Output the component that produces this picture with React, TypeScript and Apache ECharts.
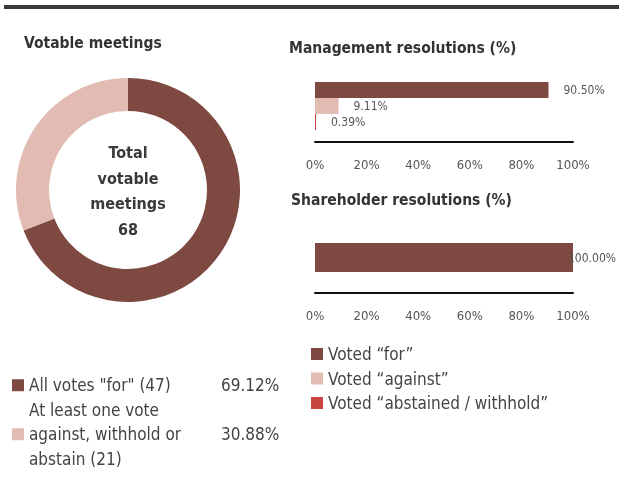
import React, { useEffect, useRef } from "react";
import * as echarts from "echarts";

const FONT = "'Liberation Sans Narrow', 'DejaVu Sans Condensed', 'Roboto Condensed', sans-serif";

const meetingNames = ['All votes "for" (47)', "At least one vote against, withhold or abstain (21)"];
const meetingLegendLines = [["All votes \"for\" (47)"], ["At least one vote", "against, withhold or", "abstain (21)"]];
const meetingCounts = [47, 21];
const totalMeetings = 68;

const voteSeriesNames = ["Voted “for”", "Voted “against”", "Voted “abstained / withhold”"];
const managementValues = [90.5, 9.11, 0.39];
const shareholderValues = [100];
const xTicks = [0, 20, 40, 60, 80, 100];

const DARK = "#7d4941";
const LIGHT = "#e2bcb2";
const RED = "#c84441";
const voteColors = [DARK, LIGHT, RED];

export default function App() {
  const ref = useRef<HTMLDivElement>(null);
  useEffect(() => {
    if (!ref.current) return;
    const chart = echarts.init(ref.current, undefined, { renderer: "svg" });
    const sum = meetingCounts.reduce((a, b) => a + b, 0);
    const pct = (n: string) => {
      const i = meetingNames.indexOf(n);
      return ((meetingCounts[i] / sum) * 100).toFixed(2) + "%";
    };
    const xAxisCommon = {
      type: "value",
      min: xTicks[0],
      max: xTicks[xTicks.length - 1],
      interval: 20,
      axisLine: { show: true, lineStyle: { color: "#111", width: 2 } },
      axisTick: { show: false },
      splitLine: { show: false },
      axisLabel: { formatter: "{value}%", color: "#555", fontSize: 13, fontFamily: FONT, margin: 16 },
    };
    const labelCommon = {
      show: true,
      position: "right",
      distance: 15,
      color: "#555",
      fontSize: 12,
      fontFamily: FONT,
      formatter: (p: any) => Number(p.value).toFixed(2) + "%",
    };
    const titleStyle = { fontSize: 15.5, fontWeight: "bold", color: "#333", fontFamily: FONT };
    chart.setOption({
      animation: false,
      textStyle: { fontFamily: FONT },
      title: [
        { text: "Votable meetings", left: 24, top: 35, padding: 0, textStyle: titleStyle },
        { text: "Management resolutions (%)", left: 289, top: 40, padding: 0, textStyle: titleStyle },
        { text: "Shareholder resolutions (%)", left: 291, top: 192, padding: 0, textStyle: titleStyle },
      ],
      graphic: [
        { type: "rect", shape: { x: 4, y: 5, width: 615, height: 4 }, style: { fill: "#3a3a3a" } },
        {
          type: "text",
          x: 128,
          y: 191,
          style: {
            text: "Total\nvotable\nmeetings\n" + totalMeetings,
            align: "center",
            verticalAlign: "middle",
            fontSize: 16,
            fontWeight: "bold",
            lineHeight: 25.5,
            fill: "#3a3a3a",
            fontFamily: FONT,
          },
        },
      ],
      legend: [
        {
          data: meetingNames,
          orient: "vertical",
          left: 12,
          top: 373,
          height: 200,
          itemWidth: 12,
          itemHeight: 12,
          itemGap: 0,
          icon: "rect",
          padding: 0,
          formatter: (name: string) => {
            const i = meetingNames.indexOf(name);
            const lines = meetingLegendLines[i];
            const mid = Math.floor((lines.length - 1) / 2);
            return lines
              .map((l, k) => (k === mid ? `{a|${l}}{b|${pct(name)}}` : `{a|${l}}`))
              .join("\n");
          },
          textStyle: {
            color: "#444",
            fontSize: 17,
            fontFamily: FONT,
            lineHeight: 24.5,
            rich: {
              a: { width: 192, fontSize: 17, color: "#444", fontFamily: FONT, lineHeight: 24.5 },
              b: { fontSize: 17, color: "#444", fontFamily: FONT, lineHeight: 24.5 },
            },
          },
        },
        {
          data: voteSeriesNames,
          orient: "vertical",
          left: 311,
          top: 344,
          itemWidth: 12,
          itemHeight: 12,
          itemGap: 4.5,
          icon: "rect",
          padding: 0,
          textStyle: { color: "#444", fontSize: 17, fontFamily: FONT, lineHeight: 20 },
        },
      ],
      grid: [
        { left: 315, top: 70, width: 258, height: 72 },
        { left: 315, top: 222, width: 258, height: 71 },
      ],
      xAxis: [
        { ...xAxisCommon, gridIndex: 0 },
        { ...xAxisCommon, gridIndex: 1 },
      ],
      yAxis: [
        { type: "category", data: ["Management"], gridIndex: 0, show: false },
        { type: "category", data: ["Shareholder"], gridIndex: 1, show: false },
      ],
      series: [
        {
          type: "pie",
          center: [128, 190],
          radius: [79, 112],
          startAngle: 90,
          clockwise: true,
          label: { show: false },
          labelLine: { show: false },
          emphasis: { disabled: true },
          data: meetingNames.map((n, i) => ({ name: n, value: meetingCounts[i], itemStyle: { color: [DARK, LIGHT][i] } })),
        },
        ...voteSeriesNames.map((n, i) => ({
          type: "bar",
          name: n,
          xAxisIndex: 0,
          yAxisIndex: 0,
          barWidth: 16,
          barGap: "0%",
          itemStyle: { color: voteColors[i] },
          label: labelCommon,
          data: [managementValues[i]],
        })),
        {
          type: "bar",
          name: voteSeriesNames[0],
          xAxisIndex: 1,
          yAxisIndex: 1,
          barWidth: 29,
          itemStyle: { color: DARK },
          label: { ...labelCommon, distance: -5 },
          data: shareholderValues,
        },
      ],
    });
    return () => chart.dispose();
  }, []);
  return <div ref={ref} style={{ position: "fixed", left: 0, top: 0, width: 619, height: 483 }} />;
}
